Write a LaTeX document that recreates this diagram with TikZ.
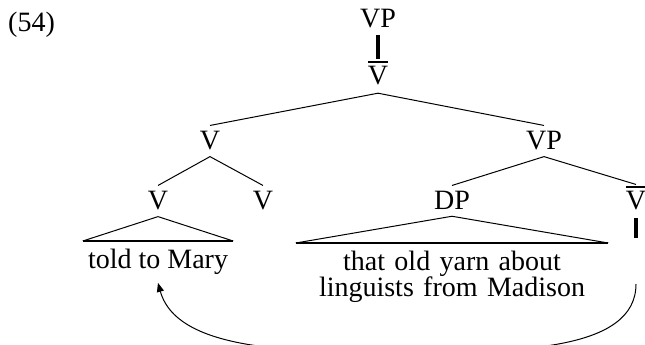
\documentclass[tikz,border=0pt]{standalone}
\usepackage{fontspec}
\setmainfont{Liberation Serif}
\usetikzlibrary{arrows.meta}

\newcommand{\barV}{\vbox{\hrule height 2pt\kern 4pt\hbox{V}}}

\begin{document}
\begin{tikzpicture}[
    x=1pt, y=1pt,
    font=\fontsize{28}{26}\selectfont,
    lab/.style={inner xsep=0pt, inner ysep=6pt, anchor=base},
    barlab/.style={inner xsep=0pt, inner ysep=1pt, text depth=7pt, anchor=base},
    phrase/.style={inner xsep=0pt, inner ysep=8pt, anchor=north, align=center},
    br/.style={line width=1pt},
    base/.style={line width=2pt},
    stem/.style={line width=3.5pt},
    arr/.style={-{Triangle[length=9pt,width=7pt]}, line width=1pt}
]
\useasboundingbox (0,0) rectangle (645,345);
\node[anchor=base west, inner sep=0pt] (ex) at (8,313) {(54)};

% tree labels
\node[lab] (vp0) at (378,317) {VP};
\node[barlab] (vb0) at (378,260) {\barV};
\node[lab] (v1) at (210,195) {V};
\node[lab] (vp1) at (544,195) {VP};
\node[lab] (v2) at (158,135) {V};
\node[lab] (v3) at (263,135) {V};
\node[lab] (dp) at (452,135) {DP};
\node[barlab] (vb2) at (636,135) {\barV};

% terminal strings
\node[phrase, minimum width=150pt] (told) at (158,104) {told to Mary};
\node[phrase, text width=312pt] (yarn) at (452,102) {that old yarn about\\linguists from Madison};
\coordinate (vt) at (636,107);
\coordinate (tr) at (636,61);

% branches
\draw[stem] (vp0.south) -- (vb0.north);
\draw[br] (vb0.south) -- (v1.north);
\draw[br] (vb0.south) -- (vp1.north);
\draw[br] (v1.south) -- (v2.north);
\draw[br] (v1.south) -- (v3.north);
\draw[br] (vp1.south) -- (dp.north);
\draw[br] (vp1.south) -- (vb2.north);
\draw[stem] (vb2.south) -- (vt);

% triangles
\draw[br] (told.north west) -- (v2.south) -- (told.north east);
\draw[base] (told.north west) -- (told.north east);
\draw[br] (yarn.north west) -- (dp.south) -- (yarn.north east);
\draw[base] (yarn.north west) -- (yarn.north east);

% movement arrow
\draw[arr] (tr) .. controls (636,-5) and (520,-7) .. (415,-7)
    .. controls (310,-7) and (178,-10) .. (told.south);
\end{tikzpicture}
\end{document}
